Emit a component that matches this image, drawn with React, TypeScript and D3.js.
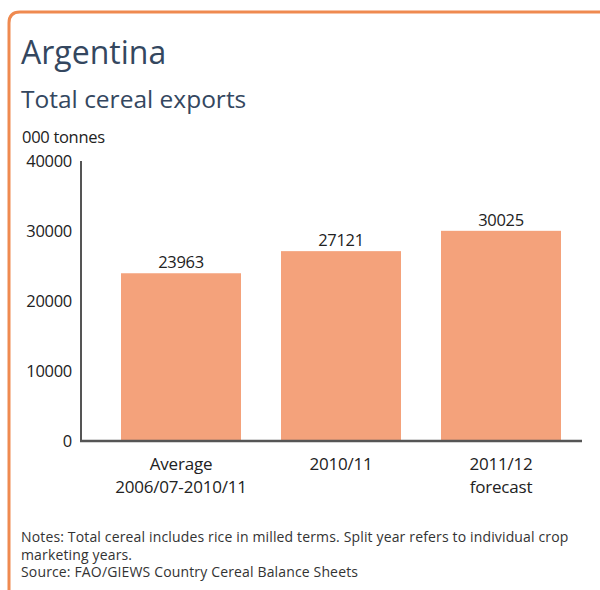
import React from "react";
import * as d3 from "d3";

const categories = ["Average|2006/07-2010/11", "2010/11", "2011/12|forecast"];
const values = [23963, 27121, 30025];
const yTicks = [0, 10000, 20000, 30000, 40000];
const title = "Argentina";
const subtitle = "Total cereal exports";
const unit = "000 tonnes";
const notes = [
  "Notes: Total cereal includes rice in milled terms. Split year refers to individual crop",
  "marketing years.",
  "Source: FAO/GIEWS Country Cereal Balance Sheets",
];

export default function App() {
  const W = 600, H = 590;
  const x0 = 81, x1 = 582;
  const y = d3.scaleLinear().domain([0, 40000]).range([441, 161]);
  const x = d3.scaleBand().domain(categories).range([101, 581]).paddingInner(0.25).paddingOuter(0.125);
  const font = "'Open Sans', 'Noto Sans', sans-serif";
  const dark = "#222";
  return (
    <svg width={W} height={H} style={{ position: "absolute", left: 0, top: 0, background: "#fff" }} fontFamily={font}>
      <path d="M600,12 L20,12 Q9,12 9,23 L9,590" fill="none" stroke="#ef8a50" strokeWidth={3} />
      <text x={21} y={64} fontSize={32} fill="#34475f">{title}</text>
      <text x={21} y={108} fontSize={24.5} fill="#34475f">{subtitle}</text>
      <text x={22} y={143} fontSize={16.5} fill={dark} letterSpacing={-0.3}>{unit}</text>
      {yTicks.map((t) => (
        <text key={t} x={72} y={y(t) + 6} fontSize={16.5} textAnchor="end" fill={dark} letterSpacing={-0.3}>{t}</text>
      ))}
      {categories.map((c, i) => (
        <g key={c}>
          <rect x={x(c)} y={y(values[i])} width={x.bandwidth()} height={y(0) - y(values[i])} fill="#f4a27b" />
          <text x={x(c)! + x.bandwidth() / 2} y={y(values[i]) - 5} fontSize={16.5} textAnchor="middle" fill={dark} letterSpacing={-0.3}>{values[i]}</text>
          {c.split("|").map((line, j) => (
            <text key={j} x={x(c)! + x.bandwidth() / 2} y={470 + j * 23} fontSize={17} textAnchor="middle" fill={dark} letterSpacing={-0.2}>{line}</text>
          ))}
        </g>
      ))}
      <line x1={x0} x2={x0} y1={161} y2={y(0)} stroke="#555" strokeWidth={2} />
      <line x1={x0 - 1} x2={x1} y1={y(0)} y2={y(0)} stroke="#555" strokeWidth={2.5} />
      {notes.map((n, i) => (
        <text key={i} x={21} y={542 + i * 17.5} fontSize={14} fill="#333" letterSpacing={0.15}>{n}</text>
      ))}
    </svg>
  );
}
